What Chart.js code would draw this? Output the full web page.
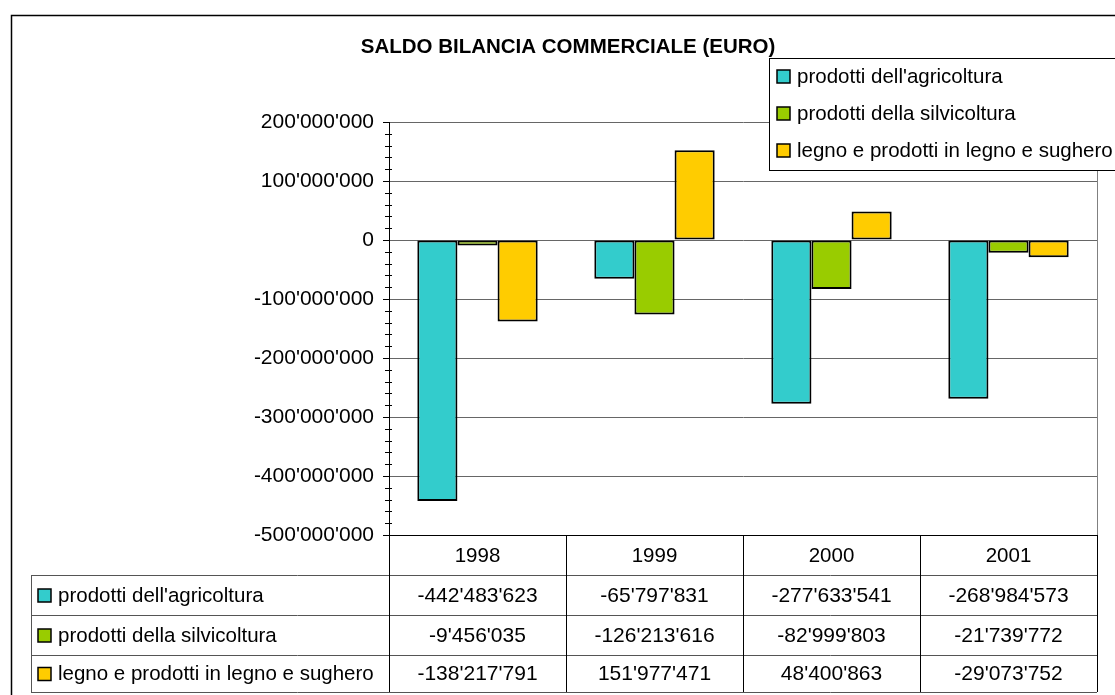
<!DOCTYPE html>
<html>
<head>
<meta charset="utf-8">
<script src="https://cdn.jsdelivr.net/npm/chart.js@4.4.1/dist/chart.umd.min.js"></script>
<style>
  html, body { margin: 0; padding: 0; background: #fff; }
  #wrap { width: 1115px; height: 695px; }
</style>
</head>
<body>
<div id="wrap"><canvas id="saldo" width="1115" height="695"></canvas></div>
<script>
const years = ['1998', '1999', '2000', '2001'];
const seriesNames = ['prodotti dell\'agricoltura', 'prodotti della silvicoltura', 'legno e prodotti in legno e sughero'];
const agricoltura = [-442483623, -65797831, -277633541, -268984573];
const silvicoltura = [-9456035, -126213616, -82999803, -21739772];
const legno = [-138217791, 151977471, 48400863, -29073752];
const seriesColors = ['#33CCCC', '#99CC00', '#FFCC00'];
const yMin = -500000000, yMax = 200000000, yStep = 100000000, yMinorStep = 20000000;

const FONT = '"Liberation Sans", Arial, sans-serif';

function fmt(v) {
    const s = Math.abs(Math.round(v)).toString().replace(/\B(?=(\d{3})+(?!\d))/g, "'");
    return (v < 0 ? '-' : '') + s;
}

// frame + white background
const framePlugin = {
    id: 'frame',
    beforeDraw(chart) {
        const c = chart.ctx;
        c.save();
        c.fillStyle = '#fff';
        c.fillRect(0, 0, chart.width, chart.height);
        c.strokeStyle = '#000';
        c.lineWidth = 1.5;
        c.beginPath();
        c.moveTo(11.5, chart.height);
        c.lineTo(11.5, 15.5);
        c.lineTo(chart.width, 15.5);
        c.stroke();
        c.restore();
    }
};

// minor ticks, plot border, legend box and the data table under the chart
const extrasPlugin = {
    id: 'extras',
    afterDatasetsDraw(chart) {
        const c = chart.ctx, ca = chart.chartArea, y = chart.scales.y;
        c.save();
        c.strokeStyle = '#000';
        c.lineWidth = 1;
        for (let v = yMin; v <= yMax; v += yMinorStep) {
            if (v % yStep === 0) continue;
            const py = Math.round(y.getPixelForValue(v)) + 0.5;
            c.beginPath();
            c.moveTo(ca.left - 4, py);
            c.lineTo(ca.left + 3, py);
            c.stroke();
        }
        // grey right border of the plot
        c.strokeStyle = '#808080';
        c.beginPath();
        c.moveTo(Math.round(ca.right) + 0.5, ca.top);
        c.lineTo(Math.round(ca.right) + 0.5, ca.bottom);
        c.stroke();
        c.restore();
    },
    afterDraw(chart) {
        const c = chart.ctx, ca = chart.chartArea, x = chart.scales.x;
        const ds = chart.data.datasets;
        c.save();

        // legend
        c.fillStyle = '#fff';
        c.fillRect(769, 58, chart.width - 769, 112);
        c.strokeStyle = '#000';
        c.lineWidth = 1;
        c.strokeRect(769.5, 58.5, chart.width, 112);
        c.font = '20.5px ' + FONT;
        c.textBaseline = 'middle';
        c.textAlign = 'left';
        ds.forEach((d, i) => {
            const cy = 76 + i * 37;
            c.fillStyle = d.backgroundColor;
            c.fillRect(777, cy - 6, 13, 13);
            c.lineWidth = 1.5;
            c.strokeStyle = '#000';
            c.strokeRect(777, cy - 6, 13, 13);
            c.fillStyle = '#000';
            c.fillText(d.label, 797, cy + 1);
        });

        // data table
        const rows = [ca.bottom, 575, 615, 655, 692];
        const colW = (ca.right - ca.left) / years.length;
        c.lineWidth = 1;
        c.strokeStyle = '#555';
        for (let r = 1; r < rows.length; r++) {
            c.beginPath();
            c.moveTo(31, rows[r] + 0.5);
            c.lineTo(ca.right, rows[r] + 0.5);
            c.stroke();
        }
        c.beginPath();
        c.moveTo(31.5, rows[1]);
        c.lineTo(31.5, rows[4]);
        c.stroke();
        c.strokeStyle = '#000';
        for (let i = 0; i <= years.length; i++) {
            const px = Math.round(ca.left + i * colW) + 0.5;
            c.beginPath();
            c.moveTo(px, rows[0]);
            c.lineTo(px, rows[4]);
            c.stroke();
        }
        c.fillStyle = '#000';
        c.textAlign = 'center';
        c.font = '20.5px ' + FONT;
        years.forEach((yr, i) => {
            c.fillText(yr, x.getPixelForValue(i), (rows[0] + rows[1]) / 2 + 1);
        });
        ds.forEach((d, r) => {
            const cy = (rows[r + 1] + rows[r + 2]) / 2 + 1;
            c.textAlign = 'left';
            c.fillStyle = d.backgroundColor;
            c.fillRect(38, cy - 7, 13, 13);
            c.lineWidth = 1.5;
            c.strokeStyle = '#000';
            c.strokeRect(38, cy - 7, 13, 13);
            c.fillStyle = '#000';
            c.font = '20.5px ' + FONT;
            c.fillText(d.label, 58, cy);
            c.textAlign = 'center';
            c.font = '21px ' + FONT;
            d.data.forEach((v, i) => {
                c.fillText(fmt(v), x.getPixelForValue(i), cy);
            });
        });
        c.restore();
    }
};

const ctx = document.getElementById('saldo').getContext('2d');
new Chart(ctx, {
    type: 'bar',
    data: {
        labels: years,
        datasets: [
            { label: seriesNames[0], data: agricoltura, backgroundColor: seriesColors[0] },
            { label: seriesNames[1], data: silvicoltura, backgroundColor: seriesColors[1] },
            { label: seriesNames[2], data: legno, backgroundColor: seriesColors[2] }
        ].map(d => Object.assign(d, { borderColor: '#000', borderWidth: 2, borderSkipped: false }))
    },
    options: {
        responsive: false,
        animation: false,
        devicePixelRatio: 1,
        layout: { padding: { left: 39, right: 18, top: 0, bottom: 0 } },
        datasets: { bar: { categoryPercentage: 0.68, barPercentage: 1.0 } },
        plugins: {
            legend: { display: false },
            tooltip: { enabled: false },
            title: {
                display: true,
                text: 'SALDO BILANCIA COMMERCIALE (EURO)',
                color: '#000',
                font: { family: FONT, size: 20.5, weight: 'bold' },
                padding: { top: 34.7, bottom: 62.7 }
            }
        },
        scales: {
            x: {
                type: 'category',
                offset: true,
                grid: { display: false },
                ticks: { display: false },
                border: { display: true, color: '#000', width: 1 },
                afterFit(scale) { scale.height = 160; }
            },
            y: {
                min: yMin,
                max: yMax,
                ticks: {
                    stepSize: yStep,
                    color: '#000',
                    padding: 9,
                    font: { family: FONT, size: 21 },
                    callback: v => fmt(v)
                },
                grid: { color: '#666', lineWidth: 1, tickColor: '#000', tickLength: 6 },
                border: { display: true, color: '#000', width: 1 },
                afterFit(scale) { scale.width = 350; }
            }
        }
    },
    plugins: [framePlugin, extrasPlugin]
});
</script>
</body>
</html>
